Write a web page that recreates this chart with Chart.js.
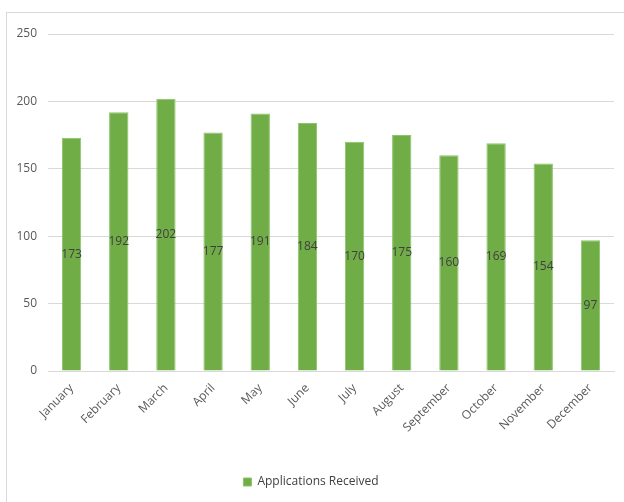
<!DOCTYPE html>
<html>
<head>
<meta charset="utf-8">
<script src="https://cdn.jsdelivr.net/npm/chart.js@4/dist/chart.umd.min.js"></script>
<style>
  html, body { margin: 0; padding: 0; background: #fff; }
  #wrap { position: relative; width: 624px; height: 502px; overflow: hidden; }
  #frame { position: absolute; left: 6px; top: 12px; width: 640px; height: 520px;
           border-left: 1px solid #d9d9d9; border-top: 1px solid #d9d9d9; }
  #chart { position: absolute; left: 0; top: 0; }
</style>
</head>
<body>
<div id="wrap">
  <div id="frame"></div>
  <canvas id="chart" width="624" height="502"></canvas>
</div>
<script>
const months = ['January', 'February', 'March', 'April', 'May', 'June',
                'July', 'August', 'September', 'October', 'November', 'December'];
const applications = [173, 192, 202, 177, 191, 184, 170, 175, 160, 169, 154, 97];
const yTicks = [0, 50, 100, 150, 200, 250];

const fontFam = "'Liberation Sans Narrow', 'Open Sans', sans-serif";

// value labels drawn in the middle of every bar
const midLabels = {
    id: 'midLabels',
    afterDatasetsDraw(chart) {
        const ctx = chart.ctx;
        const meta = chart.getDatasetMeta(0);
        ctx.save();
        ctx.font = '12px ' + fontFam;
        ctx.fillStyle = '#404040';
        ctx.textAlign = 'center';
        ctx.textBaseline = 'middle';
        meta.data.forEach((bar, i) => {
            const mid = (bar.y + bar.base) / 2;
            ctx.fillText(String(applications[i]), bar.x, mid);
        });
        ctx.restore();
    }
};

const cfg = {
    type: 'bar',
    data: {
        labels: months,
        datasets: [{
            label: 'Applications Received',
            data: applications,
            backgroundColor: '#70ad47',
            borderColor: '#8cc46a',
            borderWidth: 1,
            categoryPercentage: 1,
            barPercentage: 0.41
        }]
    },
    options: {
        responsive: false,
        animation: false,
        layout: { padding: { top: 34, left: 8, right: 10, bottom: 4 } },
        plugins: {
            tooltip: { enabled: false },
            legend: {
                position: 'bottom',
                labels: {
                    boxWidth: 8,
                    boxHeight: 8,
                    color: '#404040',
                    font: { size: 12, family: fontFam },
                    padding: 10
                }
            }
        },
        scales: {
            x: {
                grid: { display: false },
                border: { color: '#d9d9d9' },
                ticks: {
                    color: '#595959',
                    font: { size: 12, family: fontFam },
                    minRotation: 45,
                    maxRotation: 45,
                    padding: 2
                },
                afterFit(scale) { scale.height = 95; }
            },
            y: {
                min: 0,
                max: 250,
                afterBuildTicks(scale) { scale.ticks = yTicks.map(v => ({ value: v })); },
                grid: { color: '#d9d9d9', drawTicks: false },
                border: { display: false },
                ticks: {
                    color: '#595959',
                    font: { size: 12, family: fontFam },
                    padding: 11
                },
                afterFit(scale) { scale.width = 40; }
            }
        }
    },
    plugins: [midLabels]
};

new Chart(document.getElementById('chart'), cfg);
</script>
</body>
</html>
